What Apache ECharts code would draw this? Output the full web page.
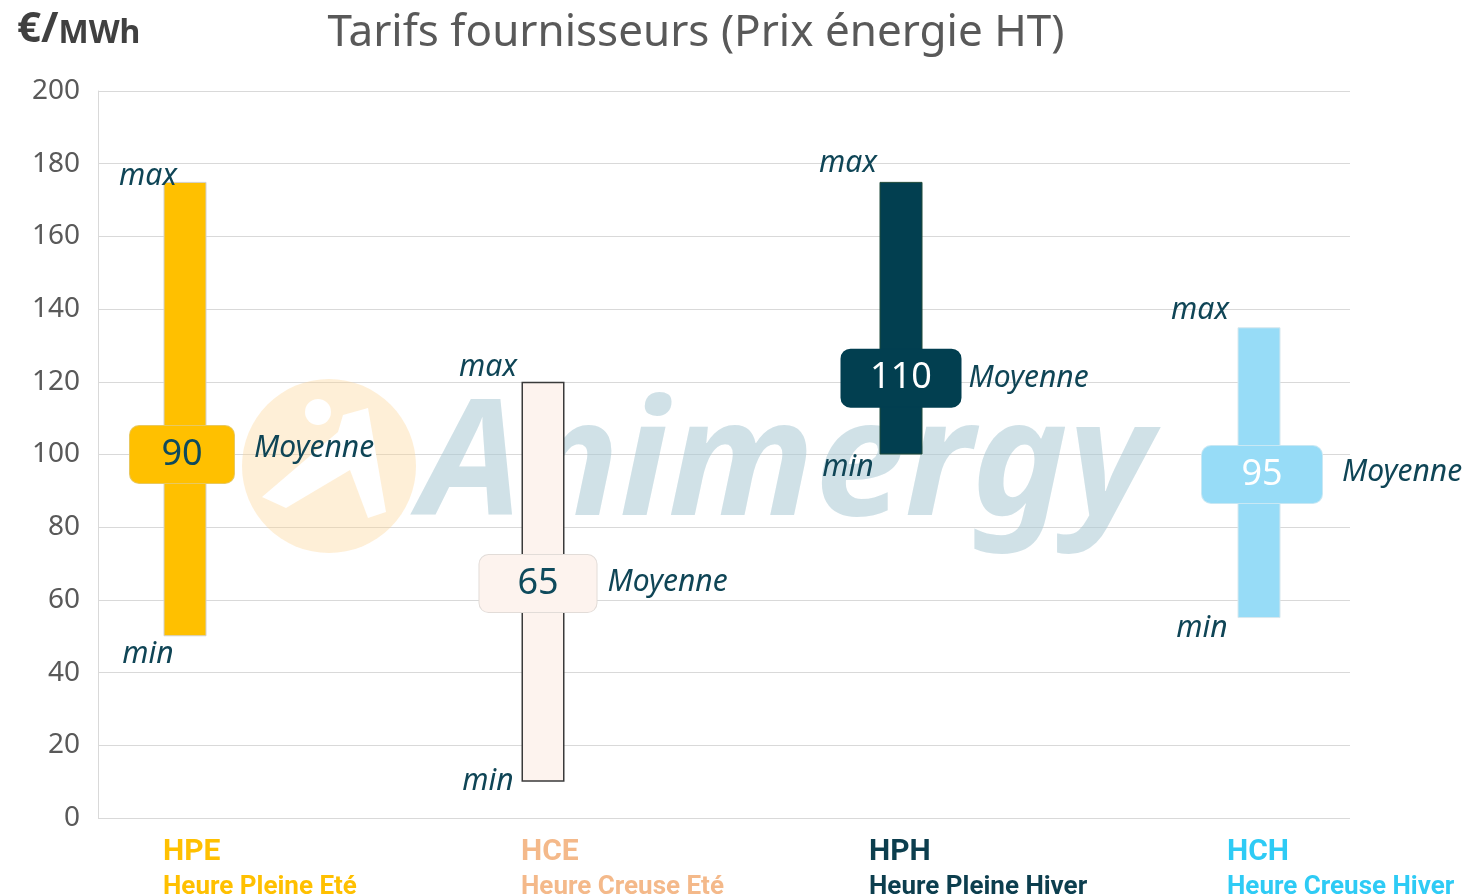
<!DOCTYPE html>
<html>
<head>
<meta charset="utf-8">
<script src="https://cdn.jsdelivr.net/npm/echarts@6/dist/echarts.min.js"></script>
<style>html,body{margin:0;padding:0;background:#fff}#c{width:1474px;height:896px}</style>
</head>
<body>
<div id="c"></div>
<script>
// ---- data ----
const codes = ['HPE', 'HCE', 'HPH', 'HCH'];
const names = ['Heure Pleine Eté', 'Heure Creuse Eté', 'Heure Pleine Hiver', 'Heure Creuse Hiver'];
const minValues = [50, 10, 100, 55];
const maxValues = [175, 120, 175, 135];
const avgValues = [90, 65, 110, 95];
const avgMarkerLevel = [100, 64.5, 121, 94.5];
const yTicks = [0, 20, 40, 60, 80, 100, 120, 140, 160, 180, 200];

// ---- styles ----
const barFill = ['#FFC000', '#FDF3EE', '#023F50', '#97DCF7'];
const barBorder = ['#D0D0D0', '#3A3A3A', '#1E4A3A', '#D8E8EE'];
const barBorderW = [1, 1.5, 1, 1];
const boxFill = ['#FFC000', '#FDF3EE', '#023F50', '#97DCF7'];
const boxBorder = ['#E8C860', '#E2DCD8', '#023F50', '#C8E8F4'];
const boxText = ['#0E4A5C', '#0E4A5C', '#FFFFFF', '#FFFFFF'];
const boxW = [104, 117, 119, 120];
const boxShift = [[-3, 0], [-5, 0], [0, 0], [3, 0]];
const catColor = ['#FFC000', '#F4B98A', '#0C3E4E', '#2ECBF5'];
const catShift = [-22, -22, -32, -32];
const maxOff = [[-37, -5], [-55, -14], [-53, -18], [-59, -17]];
const minOff = [[-37, 18], [-55, 0], [-53, 13], [-57, 10]];
const moyOff = [[-3, -6], [-14, -1], [-12, 0], [3, -2]];
const teal = '#0F4556';

const richCat = {};
codes.forEach((c, i) => {
  richCat['c' + i] = {fontFamily: 'Roboto, sans-serif', fontWeight: 'bold', fontSize: 30, color: catColor[i], lineHeight: 35, align: 'left', padding: [0, 0, 0, catShift[i]]};
  richCat['n' + i] = {fontFamily: 'Roboto, sans-serif', fontWeight: 'bold', fontSize: 26, color: catColor[i], lineHeight: 35, align: 'left', padding: [0, 0, 0, catShift[i]]};
});

const chart = echarts.init(document.getElementById('c'));
const italicLabel = {fontFamily: 'Noto Sans, sans-serif', fontStyle: 'italic', fontSize: 30, color: teal};

chart.setOption({
  animation: false,
  title: [
    {text: 'Tarifs fournisseurs (Prix énergie HT)', left: 691, top: 6, textAlign: 'center',
     textStyle: {fontFamily: 'Noto Sans, sans-serif', fontWeight: 'normal', fontSize: 44, color: '#595959'}},
    {text: '{a|€/}{b|MWh}', left: 12, top: 4,
     textStyle: {rich: {
       a: {fontFamily: 'Noto Sans, sans-serif', fontWeight: 'bold', fontSize: 42, color: '#404040'},
       b: {fontFamily: 'Noto Sans, sans-serif', fontWeight: 'bold', fontSize: 32, color: '#404040', padding: [8, 0, 0, 0]}
     }}}
  ],
  graphic: [
    {type: 'circle', shape: {cx: 329, cy: 466, r: 87}, style: {fill: 'rgba(252,214,150,0.38)'}, z: 1, silent: true},
    {type: 'circle', shape: {cx: 318, cy: 412, r: 13}, style: {fill: '#ffffff'}, z: 1, silent: true},
    {type: 'polygon', shape: {points: [[262, 497], [338, 432], [343, 415], [368, 408], [386, 512], [368, 518], [350, 470], [286, 508]]}, style: {fill: '#ffffff'}, z: 1, silent: true},
    {type: 'text', x: 420, y: 388, style: {text: 'Animergy', fontFamily: 'Noto Sans, sans-serif', fontStyle: 'italic', fontWeight: 'bold', fontSize: 162, fill: 'rgba(170,200,212,0.55)'}, z: 1, silent: true}
  ],
  grid: [
    {left: 98, right: 124, top: 91, bottom: 78, outerBoundsMode: 'none', containLabel: false},
    {left: 6, right: 36, top: 91, bottom: 78, outerBoundsMode: 'none', containLabel: false}
  ],
  xAxis: [
    {gridIndex: 0, type: 'category', data: codes, show: false},
    {gridIndex: 1, type: 'category', data: codes,
     axisLine: {show: false}, axisTick: {show: false},
     axisLabel: {interval: 0, margin: 17, align: 'left',
       formatter: (v, i) => '{c' + i + '|' + v + '}\n{n' + i + '|' + names[i] + '}',
       rich: richCat}}
  ],
  yAxis: [
    {gridIndex: 0, type: 'value', min: yTicks[0], max: yTicks[yTicks.length - 1], interval: yTicks[1] - yTicks[0],
     axisLine: {show: true, lineStyle: {color: '#D9D9D9'}}, axisTick: {show: false},
     splitLine: {lineStyle: {color: '#D9D9D9', width: 1}},
     axisLabel: {margin: 18, fontFamily: 'Noto Sans, sans-serif', fontSize: 28, color: '#595959'}},
    {gridIndex: 1, type: 'value', min: 0, max: 200, show: false}
  ],
  series: [
    {type: 'bar', xAxisIndex: 1, yAxisIndex: 1, stack: 'r', barWidth: 43, silent: true,
     itemStyle: {color: 'transparent'}, data: minValues, z: 3},
    {type: 'bar', xAxisIndex: 1, yAxisIndex: 1, stack: 'r', barWidth: 43, silent: true, z: 3,
     data: maxValues.map((m, i) => ({value: m - minValues[i],
       itemStyle: {color: barFill[i], borderColor: barBorder[i], borderWidth: barBorderW[i]}}))},
    // max labels
    {type: 'scatter', xAxisIndex: 1, yAxisIndex: 1, symbolSize: 0, silent: true, z: 5,
     itemStyle: {color: 'transparent', opacity: 1},
     data: maxValues.map((m, i) => ({value: [codes[i], m],
       label: {show: true, formatter: 'max', position: 'inside', offset: maxOff[i], ...italicLabel}}))},
    // min labels
    {type: 'scatter', xAxisIndex: 1, yAxisIndex: 1, symbolSize: 0, silent: true, z: 5,
     itemStyle: {color: 'transparent', opacity: 1},
     data: minValues.map((m, i) => ({value: [codes[i], m],
       label: {show: true, formatter: 'min', position: 'inside', offset: minOff[i], ...italicLabel}}))},
    // average boxes (label background is the box)
    {type: 'scatter', xAxisIndex: 1, yAxisIndex: 1, symbolSize: 1, silent: true, z: 6,
     itemStyle: {color: 'transparent', opacity: 1},
     data: avgValues.map((a, i) => ({value: [codes[i], avgMarkerLevel[i]],
       label: {show: true, position: 'inside', offset: boxShift[i], formatter: String(a), align: 'center', verticalAlign: 'middle',
         width: boxW[i], height: 57, lineHeight: 57, backgroundColor: boxFill[i], borderColor: boxBorder[i], borderWidth: 1, borderRadius: 9,
         fontFamily: 'Noto Sans, sans-serif', fontSize: 36, color: boxText[i]}}))},
    // Moyenne labels
    {type: 'scatter', xAxisIndex: 1, yAxisIndex: 1, silent: true, z: 6,
     itemStyle: {color: 'transparent', opacity: 1},
     data: avgValues.map((a, i) => ({value: [codes[i], avgMarkerLevel[i]], symbolSize: [boxW[i], 57],
       label: {show: true, position: 'right', distance: 20, offset: moyOff[i], formatter: 'Moyenne', ...italicLabel}}))}
  ]
});
</script>
</body>
</html>
